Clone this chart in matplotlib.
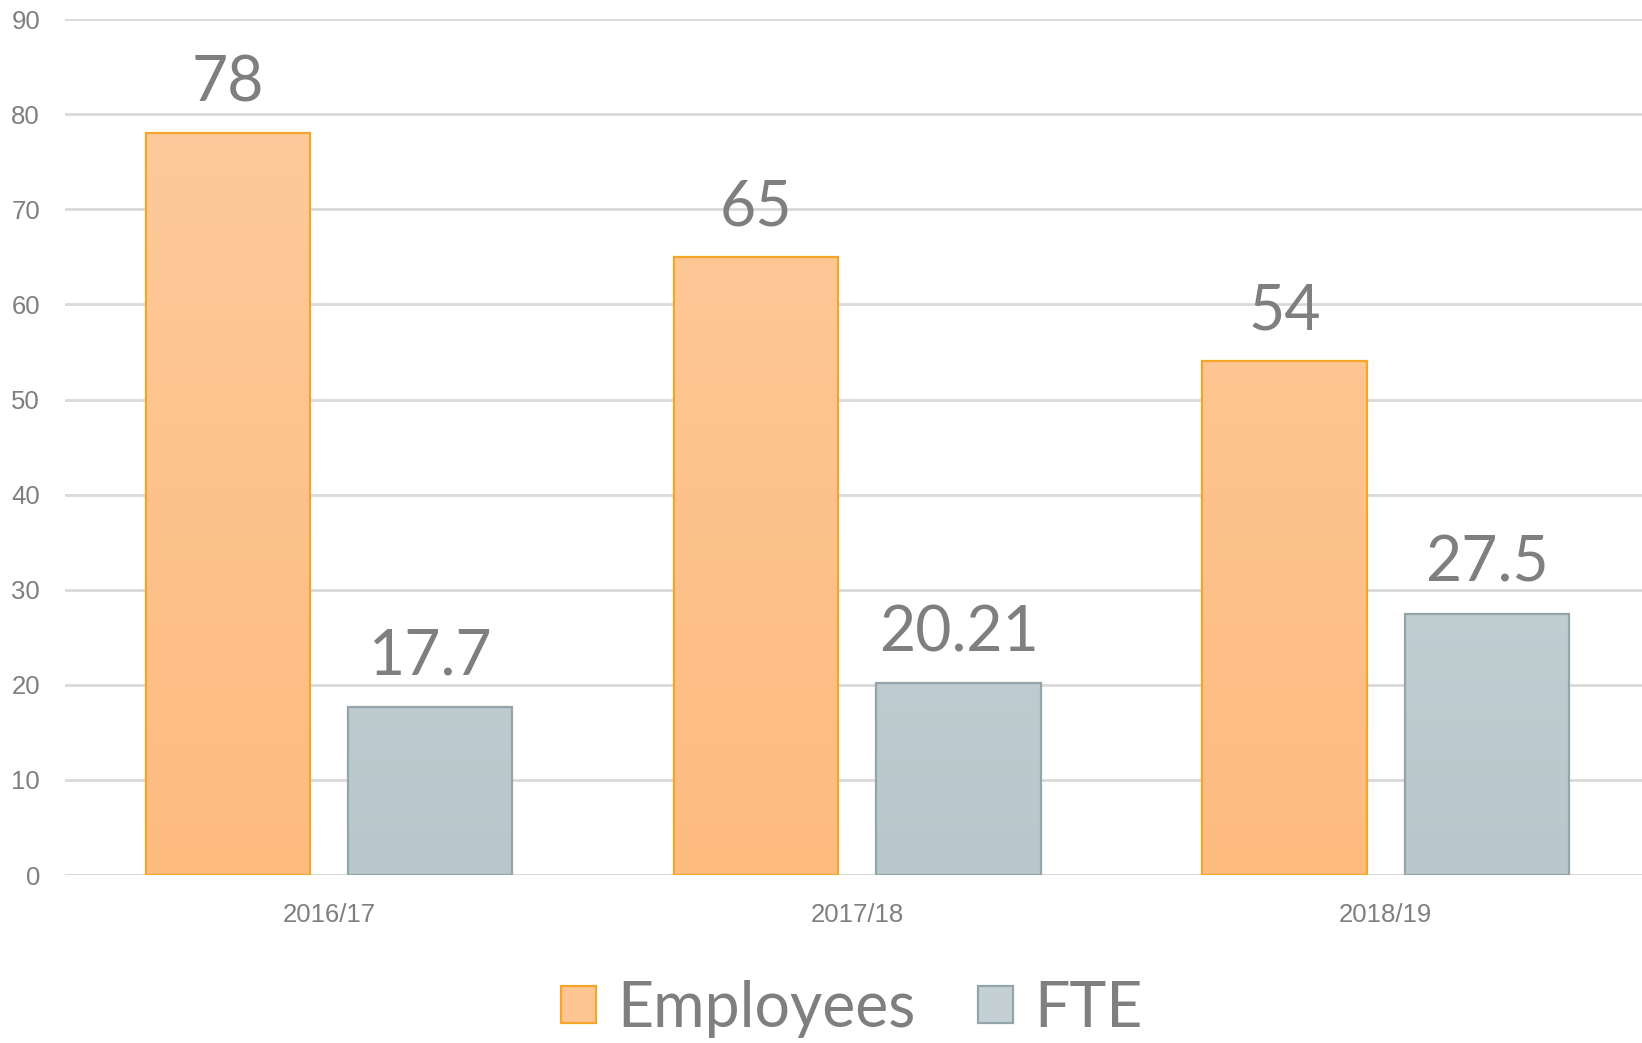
import numpy as np
import matplotlib.pyplot as plt
from matplotlib.colors import LinearSegmentedColormap
from matplotlib.patches import Rectangle

years = ["2016/17", "2017/18", "2018/19"]
employees = [78, 65, 54]
fte = [17.7, 20.21, 27.5]
emp_labels = ["78", "65", "54"]
fte_labels = ["17.7", "20.21", "27.5"]
series_names = ["Employees", "FTE"]

GREY = "#7f7f7f"
emp_cmap = LinearSegmentedColormap.from_list("emp", ["#fdbb7e", "#fdcc9f"])
fte_cmap = LinearSegmentedColormap.from_list("fte", ["#b9c7cc", "#cfd9db"])

fig = plt.figure(figsize=(16.42, 10.43), dpi=100)
ax = fig.add_axes([0.0396, 0.161, 0.9604, 0.8207])

x = np.arange(len(years))
w = 0.311
off = 0.1915


def gradient_bars(xs, vals, cmap, edge):
    bars = ax.bar(xs, vals, width=w, facecolor="none", edgecolor=edge,
                  linewidth=1.6, zorder=3)
    grad = np.linspace(0, 1, 256).reshape(-1, 1)
    for b in bars:
        x0 = b.get_x()
        im = ax.imshow(grad, cmap=cmap, aspect="auto", origin="lower",
                       extent=[x0, x0 + b.get_width(), 0, 90], zorder=2)
        im.set_clip_path(b)
    return bars


gradient_bars(x - off, employees, emp_cmap, "#f5a52a")
gradient_bars(x + off, fte, fte_cmap, "#93a5ab")

for xs, vals, labels in [(x - off, employees, emp_labels), (x + off, fte, fte_labels)]:
    for xi, v, t in zip(xs, vals, labels):
        ax.annotate(t, (xi, v), xytext=(0, 15), textcoords="offset points",
                    ha="center", va="bottom", fontsize=45, color=GREY,
                    family="Lato")

ax.set_xlim(-0.5, 2.485)
ax.set_ylim(0, 90)
ax.set_yticks(range(0, 91, 10))
ax.set_xticks(x)
ax.set_xticklabels(years)
ax.yaxis.grid(True, color="#d9d9d9", linewidth=2)
ax.set_axisbelow(True)
for s in ax.spines.values():
    s.set_visible(False)
ax.axhline(0, color="#d9d9d9", linewidth=2, zorder=1)
ax.tick_params(axis="both", length=0, labelsize=18.5, labelcolor=GREY)
ax.tick_params(axis="y", pad=18)
ax.tick_params(axis="x", pad=20)
for lbl in ax.get_xticklabels() + ax.get_yticklabels():
    lbl.set_family("Liberation Sans")

handles = [Rectangle((0, 0), 1, 1, facecolor="#fdc591", edgecolor="#f5a52a", linewidth=1.6),
           Rectangle((0, 0), 1, 1, facecolor="#c4d0d4", edgecolor="#93a5ab", linewidth=1.6)]
fig.legend(handles, series_names, loc="center", bbox_to_anchor=(0.519, 0.033),
           ncol=2, frameon=False, handlelength=0.55, handleheight=0.55,
           handletextpad=0.35, columnspacing=1.0,
           prop={"family": "Lato", "size": 45}, labelcolor=GREY)

fig.savefig("out.png", dpi=100)
